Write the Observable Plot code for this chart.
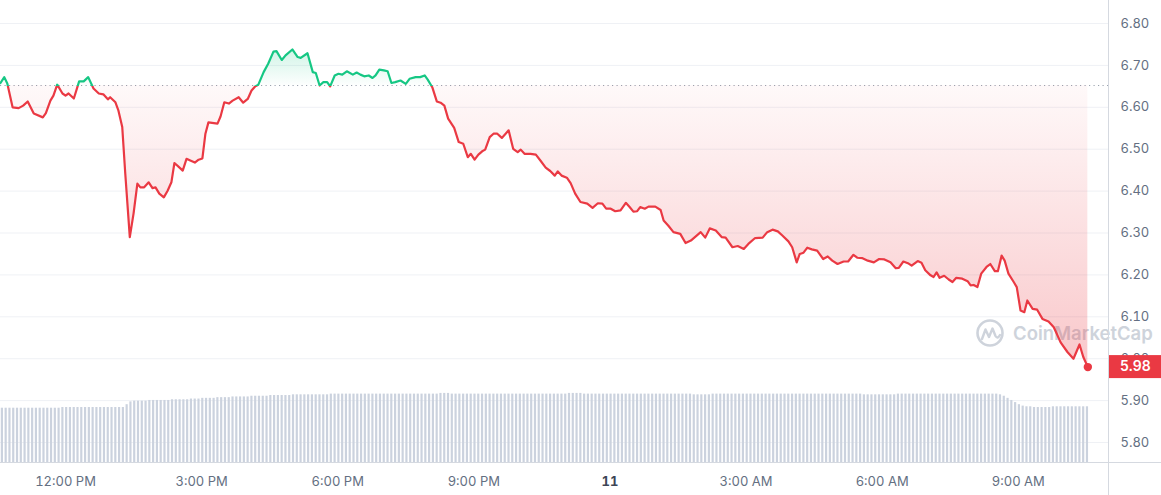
<!DOCTYPE html>
<html><head><meta charset="utf-8">
<script src="https://cdn.jsdelivr.net/npm/d3@7"></script>
<script src="https://cdn.jsdelivr.net/npm/@observablehq/plot@0.6"></script>
<style>
html,body{margin:0;padding:0;background:#fff;}
#chart{position:relative;width:1161px;height:495px;overflow:hidden;}
#chart svg{position:absolute;left:0;top:0;}
</style></head><body><div id="chart"></div>
<script>
// ---- data ----
const windowStart = "2024-01-10T10:34:00";
const windowEnd = "2024-01-11T10:59:20";
const priceMinutes = [
  0,5,9,16,24,30,36,44,56,60,
  66,70,75,82,86,90,97,104,110,116,
  123,130,136,142,145,152,156,161,165,171,
  176,181,185,190,196,201,205,210,216,221,
  226,230,235,241,246,251,257,262,267,271,
  275,287,291,296,302,307,315,321,327,332,
  337,341,348,354,361,365,372,377,386,393,
  397,406,413,417,422,427,432,436,442,447,
  452,458,466,471,476,481,487,492,496,501,
  507,512,517,522,529,536,541,549,555,561,
  565,571,577,582,587,592,600,606,612,618,
  622,627,632,637,641,647,652,657,663,668,
  672,678,684,688,693,701,708,714,721,727,
  733,737,742,749,754,760,767,776,783,790,
  796,801,807,813,820,827,832,837,842,846,
  852,857,866,873,877,883,890,899,906,913,
  926,932,938,946,954,959,968,975,983,989,
  998,1008,1014,1021,1028,1034,1042,1047,1053,1057,
  1062,1067,1073,1080,1088,1094,1100,1107,1115,1121,
  1128,1133,1140,1147,1155,1162,1169,1177,1184,1188,
  1194,1200,1205,1213,1218,1223,1230,1234,1238,1242,
  1248,1254,1259,1264,1272,1279,1283,1287,1292,1297,
  1304,1309,1315,1319,1324,1328,1333,1340,1344,1349,
  1354,1358,1365,1371,1378,1386,1393,1402,1411,1419,
  1427,1432,1438
];
const prices = [
  6.658,6.672,6.657,6.600,6.598,6.604,6.614,6.585,6.576,6.586,
  6.616,6.628,6.654,6.633,6.628,6.633,6.621,6.662,6.662,6.672,
  6.645,6.633,6.631,6.619,6.624,6.612,6.592,6.553,6.442,6.290,
  6.347,6.418,6.409,6.409,6.421,6.407,6.409,6.394,6.385,6.401,
  6.421,6.467,6.459,6.449,6.477,6.473,6.468,6.475,6.478,6.537,
  6.564,6.561,6.578,6.612,6.609,6.616,6.624,6.611,6.620,6.640,
  6.650,6.654,6.684,6.704,6.733,6.734,6.713,6.724,6.738,6.720,
  6.718,6.729,6.684,6.682,6.652,6.660,6.660,6.650,6.676,6.680,
  6.678,6.686,6.678,6.683,6.678,6.674,6.676,6.670,6.676,6.690,
  6.688,6.686,6.658,6.660,6.664,6.656,6.668,6.672,6.672,6.676,
  6.666,6.648,6.614,6.611,6.604,6.573,6.551,6.517,6.513,6.481,
  6.489,6.475,6.487,6.495,6.499,6.529,6.537,6.537,6.527,6.537,
  6.545,6.501,6.493,6.499,6.489,6.489,6.487,6.473,6.456,6.448,
  6.437,6.447,6.437,6.432,6.419,6.394,6.374,6.370,6.360,6.371,
  6.370,6.358,6.358,6.352,6.354,6.372,6.362,6.351,6.352,6.362,
  6.358,6.363,6.363,6.355,6.330,6.318,6.302,6.298,6.276,6.282,
  6.302,6.289,6.311,6.306,6.290,6.289,6.266,6.269,6.262,6.274,
  6.288,6.289,6.302,6.308,6.304,6.294,6.280,6.266,6.230,6.250,
  6.253,6.265,6.261,6.258,6.238,6.244,6.234,6.226,6.232,6.232,
  6.248,6.241,6.240,6.234,6.230,6.238,6.237,6.230,6.216,6.217,
  6.232,6.228,6.222,6.233,6.229,6.211,6.199,6.195,6.206,6.193,
  6.198,6.189,6.183,6.193,6.191,6.185,6.175,6.176,6.171,6.203,
  6.219,6.226,6.209,6.209,6.246,6.234,6.203,6.183,6.171,6.115,
  6.111,6.139,6.119,6.117,6.095,6.089,6.075,6.039,6.016,6.000,
  6.034,6.004,5.980
];
const openPrice = 6.652;
const volumeStepMinutes = 5;
const volumes = [
  77,77,77,77,77,77,77,77,77,77,77,77,77,77,77,77,
  78,78,78,78,78,78,78,78,78,78,78,78,78,78,78,78,
  78,82,86,87,87,87,87,88,88,88,88,88,88,89,89,89,
  89,89,90,90,90,91,91,91,91,92,92,92,92,93,93,93,
  93,93,94,94,94,94,94,95,95,95,95,95,95,96,96,96,
  96,96,96,96,96,96,96,97,97,97,97,97,97,97,97,97,
  97,97,97,97,97,97,97,97,97,97,97,97,97,97,97,97,
  97,97,97,97,98,98,98,97,97,97,97,97,97,97,97,97,
  97,97,97,97,97,97,97,97,97,97,97,97,97,97,97,97,
  97,97,97,97,97,97,98,98,98,98,97,97,97,97,97,97,
  97,97,97,97,97,97,97,97,97,97,97,97,97,97,97,97,
  97,97,97,97,97,97,97,96,96,96,96,96,97,97,97,97,
  97,97,97,97,97,97,97,97,97,97,97,97,97,97,97,97,
  97,97,97,97,97,97,97,97,97,97,97,97,97,97,97,97,
  97,97,97,97,96,96,96,96,96,96,96,96,96,97,97,97,
  97,97,97,97,97,97,97,97,97,97,97,97,97,97,97,97,
  97,97,97,97,97,97,97,97,96,94,91,88,85,82,80,79,
  79,78,78,78,78,78,79,79,79,79,79,79,79,79,79,79
];
const yTicks = [5.8,5.9,6.0,6.1,6.2,6.3,6.4,6.5,6.6,6.7,6.8];
const yDomain = [5.7523, 6.8549];
const xTickTimes = ["2024-01-10T12:00:00","2024-01-10T15:00:00","2024-01-10T18:00:00","2024-01-10T21:00:00",
                    "2024-01-11T00:00:00","2024-01-11T03:00:00","2024-01-11T06:00:00","2024-01-11T09:00:00"];
const xTickLabels = ["12:00 PM","3:00 PM","6:00 PM","9:00 PM","11","3:00 AM","6:00 AM","9:00 AM"];

// ---- build ----
const W = 1161, H = 495;
const t0 = new Date(windowStart);
const xDomain = [t0, new Date(windowEnd)];
const series = priceMinutes.map((m, i) => ({t: new Date(+t0 + m * 60000), p: prices[i]}));
const volData = volumes.map((v, i) => ({
  t0: new Date(+t0 + i * volumeStepMinutes * 60000),
  t1: new Date(+t0 + (i + 1) * volumeStepMinutes * 60000), v}));
const tickDates = xTickTimes.map(s => new Date(s));
const labelOf = d => xTickLabels[tickDates.findIndex(t => +t === +d)];
const isDay = d => /^\d+$/.test(labelOf(d));

const RED = "#ea3943", GREEN = "#16c784";
const common = {width: W, height: H, marginTop: 0, marginRight: 53, marginBottom: 33, marginLeft: 0};

const main = Plot.plot({
  ...common,
  style: {fontFamily: "Inter, sans-serif", fontSize: "13px", background: "transparent", overflow: "visible"},
  x: {type: "time", domain: xDomain, label: null},
  y: {domain: yDomain, label: null},
  marks: [
    Plot.ruleY(yTicks, {stroke: "#eff1f5"}),
    Plot.ruleY([openPrice], {stroke: "#9aa2ae", strokeDasharray: "1.2,3.3"}),
    Plot.areaY(series, {x: "t", y1: openPrice, y2: "p", fill: "url(#cmcFill)"}),
    Plot.lineY(series, {x: "t", y: "p", stroke: "url(#cmcLine)", strokeWidth: 2.2, strokeLinejoin: "round"}),
    Plot.dot(series.slice(-1), {x: "t", y: "p", r: 4.2, fill: RED}),
    Plot.axisY(yTicks, {anchor: "right", tickSize: 0, tickPadding: 12, tickFormat: d => d.toFixed(2),
      color: "#646f82", fontSize: 13, label: null}),
    Plot.axisX(tickDates.filter(d => !isDay(d)), {anchor: "bottom", tickSize: 0, tickPadding: 14,
      tickFormat: labelOf, color: "#646f82", fontSize: 13, label: null}),
    Plot.axisX(tickDates.filter(isDay), {anchor: "bottom", tickSize: 0, tickPadding: 14,
      tickFormat: labelOf, color: "#3d4555", fontSize: 13, fontWeight: 700, label: null})
  ]
});

const sx = main.scale("x"), sy = main.scale("y");
const svg = d3.select(main);
const frameRight = sx.range[1];
const frameBottom = sy.range[0];
const baseY = sy.apply(openPrice);
const topY = sy.apply(d3.max(prices)), botY = sy.apply(d3.min(prices));

const defs = svg.insert("defs", ":first-child");
const lg = defs.append("linearGradient").attr("id", "cmcLine").attr("gradientUnits", "userSpaceOnUse")
  .attr("x1", 0).attr("x2", 0).attr("y1", 0).attr("y2", H);
lg.append("stop").attr("offset", baseY / H).attr("stop-color", GREEN);
lg.append("stop").attr("offset", baseY / H).attr("stop-color", RED);
const fg = defs.append("linearGradient").attr("id", "cmcFill").attr("gradientUnits", "userSpaceOnUse")
  .attr("x1", 0).attr("x2", 0).attr("y1", topY).attr("y2", botY);
const bo = (baseY - topY) / (botY - topY);
fg.append("stop").attr("offset", 0).attr("stop-color", GREEN).attr("stop-opacity", 0.2);
fg.append("stop").attr("offset", bo).attr("stop-color", GREEN).attr("stop-opacity", 0.01);
fg.append("stop").attr("offset", bo).attr("stop-color", RED).attr("stop-opacity", 0.03);
fg.append("stop").attr("offset", 1).attr("stop-color", RED).attr("stop-opacity", 0.28);

// watermark (under the marks)
const wm = svg.insert("g", "defs + *").attr("opacity", 0.9).attr("transform", "translate(0,2)");
wm.append("circle").attr("cx", 990).attr("cy", 331).attr("r", 12.5)
  .attr("fill", "none").attr("stroke", "#c9cfd8").attr("stroke-width", 2.6);
wm.append("path").attr("d", "M982,337 L985.5,327.5 L989,335 L992.5,326.5 L995.5,334 Q997.5,337.5 1000,333")
  .attr("fill", "none").attr("stroke", "#c9cfd8").attr("stroke-width", 2.4)
  .attr("stroke-linejoin", "round").attr("stroke-linecap", "round");
wm.append("text").attr("x", 1013).attr("y", 338).attr("fill", "#c9cfd8").attr("text-anchor", "start")
  .attr("font-family", "Inter, sans-serif").attr("font-size", 18.5).attr("font-weight", 600)
  .text("CoinMarketCap");

// frame lines
svg.append("line").attr("x1", 0).attr("x2", W).attr("y1", frameBottom + 0.5).attr("y2", frameBottom + 0.5)
  .attr("stroke", "#d5d9e0");
svg.append("line").attr("x1", frameRight + 0.5).attr("x2", frameRight + 0.5).attr("y1", 0).attr("y2", H)
  .attr("stroke", "#d5d9e0");

// price tag
const last = series[series.length - 1];
const tagY = sy.apply(last.p);
svg.append("rect").attr("x", frameRight + 1).attr("y", tagY - 11.5).attr("width", W - frameRight - 1)
  .attr("height", 23).attr("fill", RED);
svg.append("text").attr("x", frameRight + 12).attr("y", tagY).attr("dy", "0.35em").attr("fill", "#fff")
  .attr("text-anchor", "start")
  .attr("font-family", "Inter, sans-serif").attr("font-size", 14).attr("font-weight", 600)
  .text(last.p.toFixed(2));

const vol = Plot.plot({
  ...common,
  style: {background: "transparent"},
  x: {type: "time", domain: xDomain, axis: null},
  y: {domain: [0, 100], range: [frameBottom, 391.5], axis: null},
  marks: [
    Plot.rectY(volData, {x1: "t0", x2: "t1", y: "v", fill: "#cbd2de", insetLeft: 0.8, insetRight: 0.8})
  ]
});

const chart = document.getElementById("chart");
chart.appendChild(main);
chart.appendChild(vol);
</script></body></html>
